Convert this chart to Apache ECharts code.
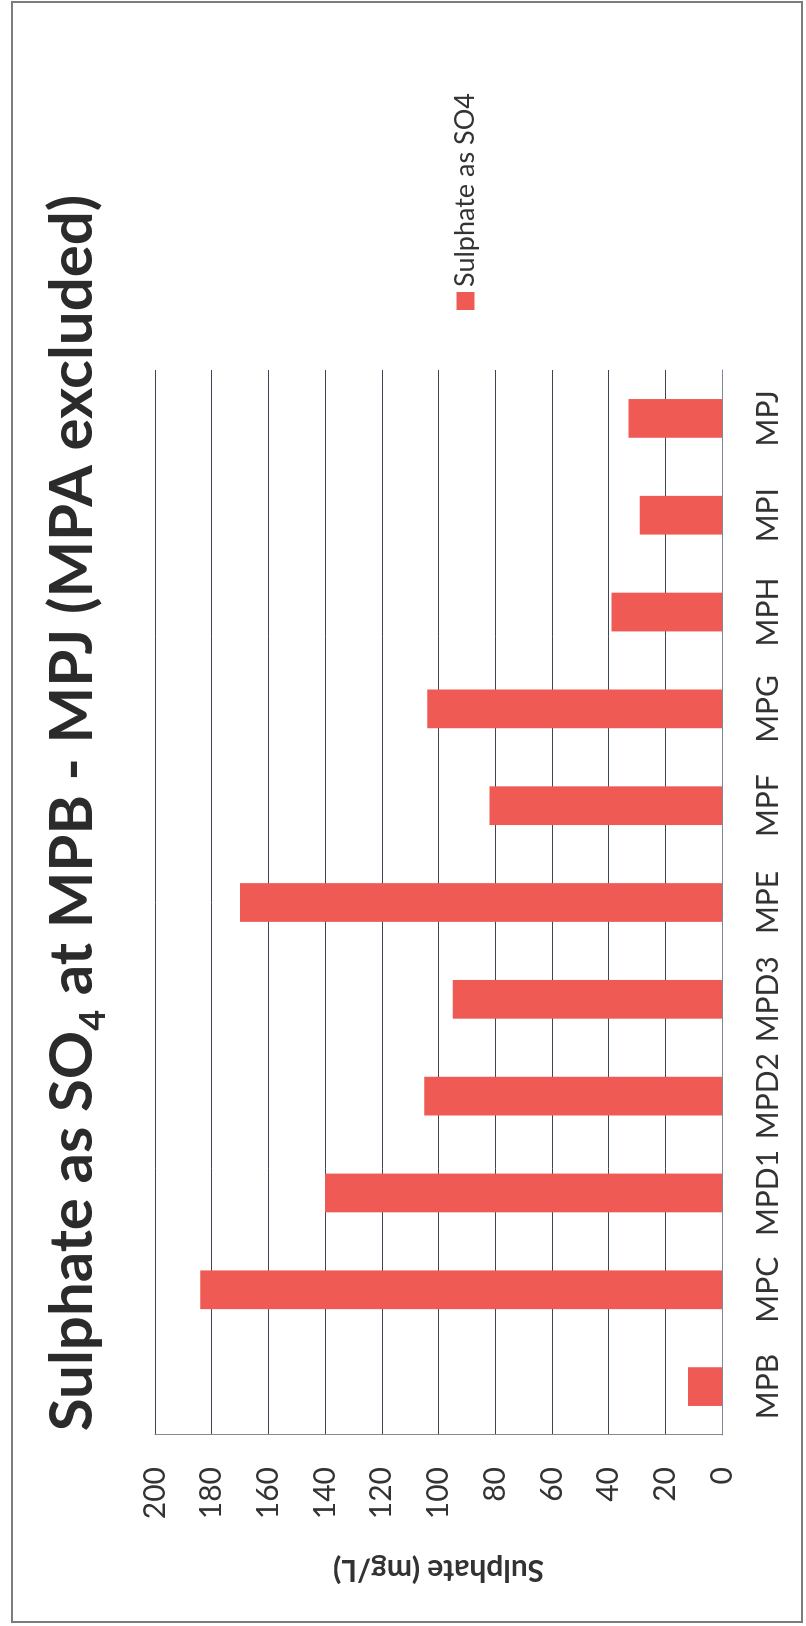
<!DOCTYPE html>
<html>
<head>
<meta charset="utf-8">
<script src="https://cdn.jsdelivr.net/npm/echarts@6/dist/echarts.min.js"></script>
<style>
  html, body { margin: 0; padding: 0; overflow: hidden; background: #ffffff; width: 806px; height: 1626px; }
  /* The chart is laid out landscape and turned a quarter-turn anticlockwise onto the portrait page */
  #chart {
    position: absolute; left: 0; top: 1626px;
    width: 1626px; height: 806px;
    transform-origin: 0 0; transform: rotate(-90deg);
    background: #ffffff;
  }
</style>
</head>
<body>
<div id="chart"></div>
<script>
// Sampling sites and sulphate results (mg/L)
const categories = ['MPB', 'MPC', 'MPD1', 'MPD2', 'MPD3', 'MPE', 'MPF', 'MPG', 'MPH', 'MPI', 'MPJ'];
const sulphateValues = [12, 184, 140, 105, 95, 170, 82, 104, 39, 29, 33];
const seriesName = 'Sulphate as SO4';
const valueAxisMin = 0;
const valueAxisMax = 200;
const valueAxisStep = 20;

const FONT = 'Lato, "Open Sans", sans-serif';
const BAR_RED = '#EF5A55';

const chart = echarts.init(document.getElementById('chart'), null, { renderer: 'canvas' });

chart.setOption({
  backgroundColor: '#ffffff',
  animation: false,
  title: {
    text: '{m|Sulphate as SO}{s|4}{m| at MPB - MPJ (MPA excluded)}',
    left: 'center',
    top: 35,
    padding: 0,
    textStyle: {
      rich: {
        m: { fontFamily: FONT, fontWeight: 'bold', fontSize: 60, color: '#2b2b2b', lineHeight: 76 },
        s: { fontFamily: FONT, fontWeight: 'bold', fontSize: 36, color: '#2b2b2b', lineHeight: 76, verticalAlign: 'bottom' }
      }
    }
  },
  legend: {
    data: [seriesName],
    left: 1316,
    top: 452,
    padding: 0,
    icon: 'rect',
    itemWidth: 18,
    itemHeight: 18,
    textStyle: { fontFamily: FONT, fontSize: 27, color: '#333333' }
  },
  grid: { left: 191, right: 370, top: 155, bottom: 84, containLabel: false },
  xAxis: {
    type: 'category',
    data: categories,
    axisLine: { show: true, lineStyle: { color: '#7d8896', width: 1 } },
    axisTick: { show: false },
    axisLabel: { fontFamily: FONT, fontSize: 30, color: '#333333', margin: 31, interval: 0 },
    splitLine: { show: false }
  },
  yAxis: {
    type: 'value',
    min: valueAxisMin,
    max: valueAxisMax,
    interval: valueAxisStep,
    name: 'Sulphate (mg/L)',
    nameLocation: 'middle',
    nameRotate: 90,
    nameGap: 120,
    nameTextStyle: { fontFamily: FONT, fontWeight: 'bold', fontSize: 30, color: '#333333' },
    axisLine: { show: true, lineStyle: { color: '#8a8a8a', width: 1 } },
    axisTick: { show: false },
    axisLabel: { fontFamily: FONT, fontSize: 30, color: '#333333', margin: 32 },
    splitLine: { show: true, lineStyle: { color: '#3e4552', width: 1 } }
  },
  series: [{
    name: seriesName,
    type: 'bar',
    data: sulphateValues,
    barCategoryGap: '60%',
    itemStyle: { color: BAR_RED }
  }],
  graphic: [{
    type: 'rect',
    silent: true,
    shape: { x: 4, y: 12, width: 1620, height: 790 },
    style: { fill: 'none', stroke: '#7c7c7c', lineWidth: 2 }
  }]
});
</script>
</body>
</html>
